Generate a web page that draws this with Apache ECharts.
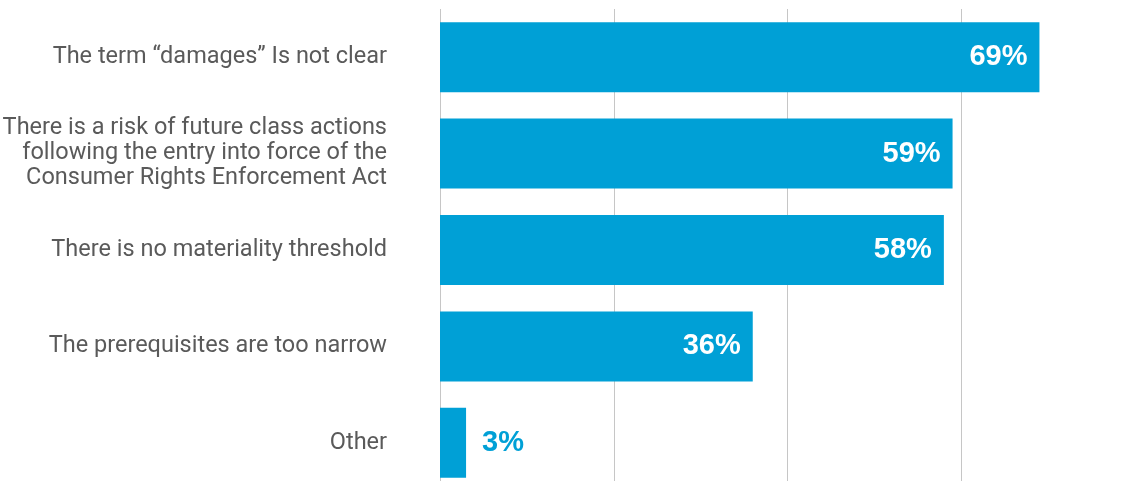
<!DOCTYPE html>
<html>
<head>
<meta charset="utf-8">
<script src="https://cdn.jsdelivr.net/npm/echarts@6/dist/echarts.min.js"></script>
<style>html,body{margin:0;padding:0;background:#fff}#c{width:1126px;height:481px}</style>
</head>
<body>
<div id="c"></div>
<script>
const categories = [
  'The term \u201cdamages\u201d Is not clear',
  'There is a risk of future class actions\nfollowing the entry into force of the\nConsumer Rights Enforcement Act',
  'There is no materiality threshold',
  'The prerequisites are too narrow',
  'Other'
];
const values = [69, 59, 58, 36, 3];
const xTicks = [0, 20, 40, 60, 80];

const BLUE = '#00a0d6';
const chart = echarts.init(document.getElementById('c'), null, {renderer: 'canvas'});
chart.setOption({
  animation: false,
  grid: {left: 440, right: -9, top: 9, bottom: -10, outerBoundsMode: 'none', containLabel: false},
  xAxis: {
    type: 'value', min: xTicks[0], max: xTicks[xTicks.length - 1], interval: 20,
    axisLabel: {show: false}, axisLine: {show: false}, axisTick: {show: false},
    splitLine: {show: true, lineStyle: {color: '#c6c6c6', width: 1}}
  },
  yAxis: {
    type: 'category', data: categories, inverse: true,
    axisLine: {show: false}, axisTick: {show: false},
    axisLabel: {
      margin: 53, color: '#5a5a5a', fontSize: 23.5, lineHeight: 25,
      fontFamily: 'Roboto', align: 'right'
    }
  },
  series: [{
    type: 'bar', data: values.map((v, i) => ({
      value: v,
      label: v < 10 ? {position: 'right', distance: 16, color: BLUE} : {position: 'insideRight', distance: 12, color: '#fff'}
    })),
    barWidth: 70,
    itemStyle: {color: BLUE},
    label: {
      show: true, formatter: '{c}%', fontSize: 29, fontWeight: 'bold',
      fontFamily: 'Liberation Sans'
    }
  }]
});
</script>
</body>
</html>
